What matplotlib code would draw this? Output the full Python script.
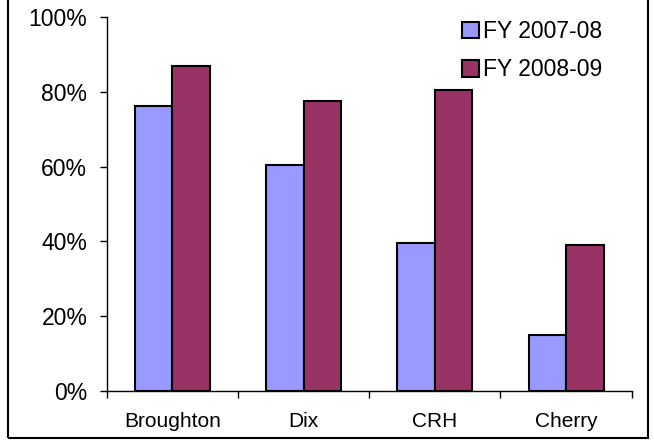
import numpy as np
import matplotlib.pyplot as plt
from matplotlib.patches import Rectangle

plt.rcParams['font.family'] = ['Liberation Sans', 'DejaVu Sans']

categories = ['Broughton', 'Dix', 'CRH', 'Cherry']
fy0708 = [76.2, 60.4, 39.5, 14.9]
fy0809 = [87.1, 77.5, 80.7, 39.0]
series_names = ['FY 2007-08', 'FY 2008-09']
yticks = [0, 20, 40, 60, 80, 100]

W, H = 654, 440
fig = plt.figure(figsize=(W / 100, H / 100), dpi=100)
ax = fig.add_axes([106.7 / W, 1 - 390.7 / H, (631.7 - 106.7) / W, (390.7 - 17.5) / H])

x = np.arange(len(categories))
bw = 1 / 3.5
ax.bar(x - bw / 2, fy0708, bw, color='#9999FF', edgecolor='black', linewidth=1.5, label=series_names[0])
ax.bar(x + bw / 2, fy0809, bw, color='#993366', edgecolor='black', linewidth=1.5, label=series_names[1])

ax.set_xlim(-0.5, len(categories) - 0.5)
ax.set_ylim(0, 100)
ax.set_yticks(yticks)
ax.set_yticklabels([f'{v}%' for v in yticks], fontsize=16.5)
ax.tick_params(axis='y', direction='out', length=5, width=1, pad=9)

# category labels at centers, ticks at boundaries
ax.set_xticks(np.arange(-0.5, len(categories)), minor=False)
ax.set_xticklabels([])
ax.set_xticks(x, minor=True)
ax.set_xticklabels(categories, minor=True, fontsize=15)
ax.tick_params(axis='x', which='major', direction='out', length=5, width=1)
ax.tick_params(axis='x', which='minor', length=0, pad=15.5)

for s in ['top', 'right']:
    ax.spines[s].set_visible(False)
for s in ['left', 'bottom']:
    ax.spines[s].set_linewidth(1)
    ax.spines[s].set_color('black')

ax.legend(loc='upper left', bbox_to_anchor=(462 / W, 1 - 20 / H), bbox_transform=fig.transFigure,
          frameon=False, fontsize=16.5, handlelength=0.74, handleheight=0.74,
          handletextpad=0.17, labelspacing=0.67, borderaxespad=0, borderpad=0)

# outer chart frame (top edge is cut off in the picture)
fig.patches.append(Rectangle((8 / W, 1 - 438 / H), (648 - 8) / W, 1.2, transform=fig.transFigure,
                             fill=False, edgecolor='black', linewidth=1.5, clip_on=False))

fig.savefig('out.png', dpi=100)
